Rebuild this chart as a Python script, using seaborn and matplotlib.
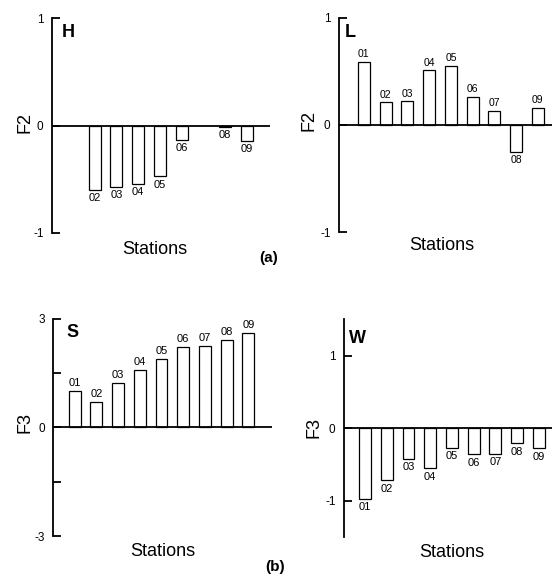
import seaborn as sns
import matplotlib
matplotlib.use("Agg")
import matplotlib.pyplot as plt
import numpy as np
import pandas as pd

stations = ["01", "02", "03", "04", "05", "06", "07", "08", "09"]

# F2 scores
h_vals = [np.nan, -0.60, -0.57, -0.54, -0.47, -0.13, np.nan, -0.01, -0.14]
l_vals = [0.59, 0.21, 0.22, 0.51, 0.55, 0.26, 0.13, -0.25, 0.16]
# F3 scores
s_vals = [1.02, 0.71, 1.23, 1.58, 1.90, 2.23, 2.25, 2.42, 2.62]
w_vals = [-0.97, -0.72, -0.42, -0.55, -0.27, -0.36, -0.35, -0.21, -0.28]

sns.set_style("white")
plt.rcParams["font.family"] = ["Liberation Sans", "DejaVu Sans"]
plt.rcParams["text.color"] = "black"
plt.rcParams["ytick.color"] = "black"
plt.rcParams["axes.labelcolor"] = "black"

fig = plt.figure(figsize=(5.52, 5.76), dpi=100)


def panel(rect, vals, letter, ylab, ylim, yticks, yticklabels, xlim,
          letter_pos, ylab_pos, xlab_pos, lab_size=8):
    ax = fig.add_axes(rect)
    df = pd.DataFrame({"station": stations, "value": vals}).dropna()
    sns.barplot(data=df, x="station", y="value", order=stations, ax=ax,
                color="white", saturation=1, edgecolor="black",
                linewidth=0.9, width=0.55, errorbar=None)
    ax.axhline(0, color="black", lw=1.3, zorder=5)
    ax.set_ylim(*ylim)
    ax.set_xlim(*xlim)
    for s in ["top", "right", "bottom"]:
        ax.spines[s].set_visible(False)
    ax.spines["left"].set_linewidth(1.3)
    ax.spines["left"].set_color("black")
    ax.set_yticks(yticks)
    ax.set_yticklabels(yticklabels)
    ax.tick_params(axis="y", direction="in", length=6, width=1.3,
                   labelsize=8.5, pad=6, left=True)
    ax.set_xticks([])
    ax.set_xlabel("")
    ax.set_ylabel("")
    for i, v in enumerate(vals):
        if np.isnan(v):
            continue
        if v >= 0:
            ax.annotate(stations[i], (i, v), xytext=(0, 2),
                        textcoords="offset points", ha="center",
                        va="bottom", fontsize=lab_size)
        else:
            ax.annotate(stations[i], (i, v), xytext=(0, -2.5),
                        textcoords="offset points", ha="center",
                        va="top", fontsize=lab_size)
    ax.text(*letter_pos, letter, transform=ax.transAxes, fontsize=13,
            fontweight="bold", ha="center", va="center")
    ax.text(*ylab_pos, ylab, transform=ax.transAxes, fontsize=13,
            rotation=90, ha="center", va="center")
    ax.text(*xlab_pos, "Stations", transform=ax.transAxes, fontsize=13,
            ha="center", va="center")
    return ax


panel([0.094, 0.5955, 0.395, 0.373], h_vals, "H", "F2", (-1, 1),
      [-1, 0, 1], ["-1", "0", "1"], (-0.96, 9.05),
      (0.073, 0.935), (-0.124, 0.516), (0.472, -0.079))
panel([0.614, 0.597, 0.386, 0.372], l_vals, "L", "F2", (-1, 1),
      [-1, 0, 1], ["-1", "0", "1"], (-1.15, 8.65),
      (0.052, 0.93), (-0.141, 0.519), (0.484, -0.061), lab_size=7.5)
panel([0.096, 0.0694, 0.397, 0.377], s_vals, "S", "F3", (-3, 3),
      [-3, -1.5, 0, 1.5, 3], ["-3", "", "0", "", "3"], (-1.0, 9.1),
      (0.087, 0.935), (-0.128, 0.525), (0.502, -0.069))
panel([0.623, 0.0677, 0.377, 0.378], w_vals, "W", "F3", (-1.5, 1.5),
      [-1, 0, 1], ["-1", "0", "1"], (-0.97, 8.6),
      (0.067, 0.913), (-0.144, 0.505), (0.519, -0.069))

fig.text(0.487, 0.552, "(a)", fontsize=11, fontweight="bold",
         ha="center", va="center")
fig.text(0.498, 0.016, "(b)", fontsize=11, fontweight="bold",
         ha="center", va="center")

fig.savefig("out.png", dpi=100)
